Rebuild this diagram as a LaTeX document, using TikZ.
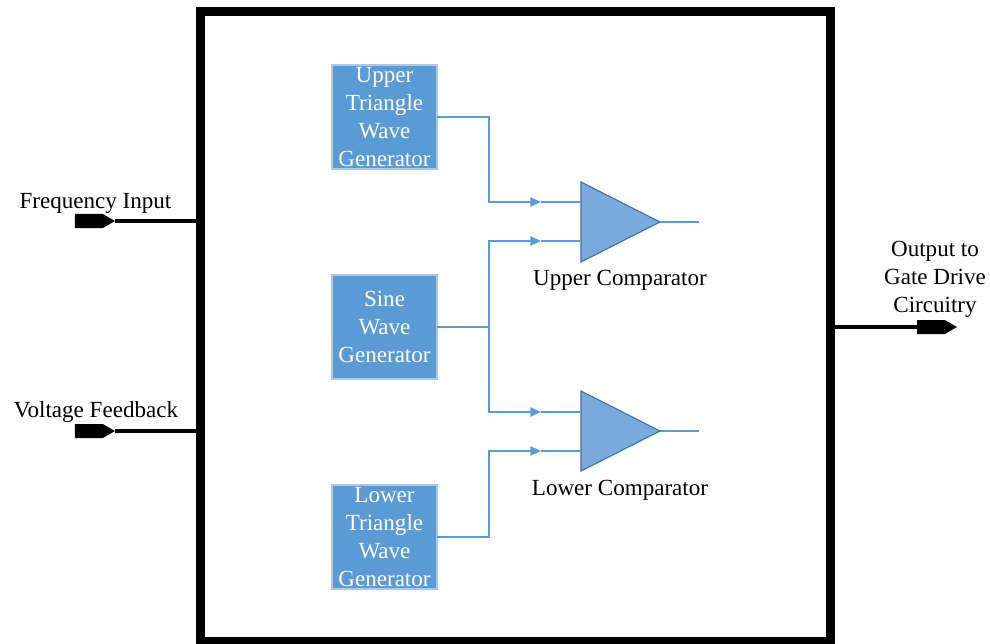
\documentclass[tikz,border=0pt]{standalone}
\usepackage{fontspec}
\setmainfont{Liberation Serif}
\usetikzlibrary{calc}
\usetikzlibrary{positioning}
\usetikzlibrary{shapes.geometric}
\usetikzlibrary{shapes.symbols}
\usetikzlibrary{arrows.meta}
\definecolor{genBlue}{RGB}{91,155,213}
\definecolor{genEdge}{RGB}{170,200,232}
\definecolor{cmpFill}{RGB}{122,170,220}
\definecolor{cmpEdge}{RGB}{65,113,170}
\definecolor{wireBlue}{RGB}{91,155,213}
\tikzstyle{mainbox} = [draw, line width=6.4pt, minimum width=15.75cm, minimum height=15.75cm, inner sep=0, outer sep=0]
\tikzstyle{gennode} = [draw=genEdge, fill=genBlue, text=white, line width=0.8pt, minimum width=2.625cm, minimum height=2.6cm, inner sep=0, outer sep=0, align=center]
\tikzstyle{cmpnode} = [draw=cmpEdge, fill=cmpFill, line width=0.8pt, isosceles triangle, isosceles triangle stretches, minimum width=2cm, minimum height=1.975cm, inner sep=0, outer sep=0]
\tikzstyle{sigport} = [signal, signal to=east, signal pointer angle=60, fill=black, minimum width=1cm, minimum height=0.35cm, inner sep=0, outer sep=0, anchor=east]
\tikzstyle{textnode} = [align=center, inner sep=0]
\tikzstyle{wire} = [draw=wireBlue, line width=1.1pt]
\tikzstyle{wirearrow} = [wire, -{Triangle[length=7.5pt, width=6.5pt]}]
\tikzstyle{bus} = [draw, line width=2.3pt]

\begin{document}
\begin{tikzpicture}[x=0.025cm, y=-0.025cm, font=\fontsize{16.4pt}{19.9pt}\selectfont]
    \useasboundingbox (0,0) rectangle (990,643);
    \node[mainbox] (main_box) at (515.5,326.5) {};

    % generators
    \node[gennode] (upper_gen) at (384.5,117) {Upper\\Triangle\\Wave\\Generator};
    \node[gennode] (sine_gen) at (384.5,327) {Sine\\Wave\\Generator};
    \node[gennode] (lower_gen) at (384.5,537) {Lower\\Triangle\\Wave\\Generator};

    % comparators
    \node[cmpnode, anchor=apex] (upper_cmp) at (660,222) {};
    \node[cmpnode, anchor=apex] (lower_cmp) at (660,431) {};
    \node[textnode] (upper_cmp_label) at (620,280) {Upper Comparator};
    \node[textnode] (lower_cmp_label) at (620,490) {Lower Comparator};

    \coordinate (upper_in_a) at (580,202);
    \coordinate (upper_in_b) at (580,241);
    \coordinate (lower_in_a) at (580,412);
    \coordinate (lower_in_b) at (580,451);
    \coordinate (upper_tip_a) at ($(upper_in_a)+(-39,0)$);
    \coordinate (upper_tip_b) at ($(upper_in_b)+(-39,0)$);
    \coordinate (lower_tip_a) at ($(lower_in_a)+(-39,0)$);
    \coordinate (lower_tip_b) at ($(lower_in_b)+(-39,0)$);
    \coordinate (sine_join) at (489,327);
    \coordinate (upper_out) at (699,222);
    \coordinate (lower_out) at (699,431);

    \draw[wirearrow] (upper_gen.east) -| (sine_join |- upper_tip_a) -- (upper_tip_a);
    \draw[wire] (upper_tip_a) -- (upper_in_a);
    \draw[wire] (sine_gen.east) -- (sine_join);
    \draw[wirearrow] (sine_join) |- (upper_tip_b);
    \draw[wire] (upper_tip_b) -- (upper_in_b);
    \draw[wirearrow] (sine_join) |- (lower_tip_a);
    \draw[wire] (lower_tip_a) -- (lower_in_a);
    \draw[wirearrow] (lower_gen.east) -| (sine_join |- lower_tip_b) -- (lower_tip_b);
    \draw[wire] (lower_tip_b) -- (lower_in_b);
    \draw[wire] (upper_cmp.apex) -- (upper_out);
    \draw[wire] (lower_cmp.apex) -- (lower_out);

    % ports
    \node[sigport] (freq_in) at (115,221) {};
    \node[sigport] (volt_in) at (115,431) {};
    \node[sigport] (gate_out) at (957,327) {};
    \node[textnode] (freq_label) at (95.5,203) {Frequency Input};
    \node[textnode] (volt_label) at (96,412) {Voltage Feedback};
    \node[textnode] (gate_label) at (935,279.5) {Output to\\Gate Drive\\Circuitry};
    \draw[bus] (freq_in.east) -- (freq_in.east -| main_box.west);
    \draw[bus] (volt_in.east) -- (volt_in.east -| main_box.west);
    \draw[bus] (gate_out.west -| main_box.east) -- (gate_out.west);
\end{tikzpicture}
\end{document}
